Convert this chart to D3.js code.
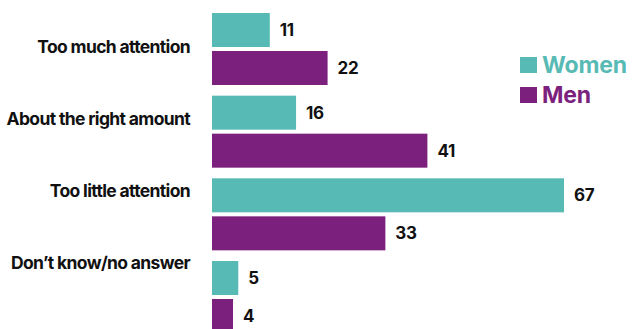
<!DOCTYPE html>
<html>
<head>
<meta charset="utf-8">
<script src="https://cdn.jsdelivr.net/npm/d3@7"></script>
<style>
  html, body { margin: 0; padding: 0; background: #fff; }
  svg { display: block; }
  .cat { font-family: Inter, "Noto Sans", sans-serif; font-weight: 700; font-size: 17.5px; letter-spacing: -0.65px; fill: #111; }
  .val { font-family: Inter, "Liberation Sans", sans-serif; font-weight: 700; font-size: 17px; letter-spacing: -0.3px; fill: #111; }
  .leg { font-family: Inter, "Noto Sans", sans-serif; font-weight: 700; font-size: 23px; letter-spacing: -0.2px; }
</style>
</head>
<body>
<svg id="chart" width="634" height="329"></svg>
<script>
// Survey answers, share of respondents (%)
const categories = ["Too much attention", "About the right amount", "Too little attention", "Don\u2019t know/no answer"];
const seriesNames = ["Women", "Men"];
const women = [11, 16, 67, 5];
const men = [22, 41, 33, 4];
const colors = ["#57bab4", "#7b217d"];

const svg = d3.select("#chart");
const W = 634, H = 329;

const rows = categories.map((c, i) => ({ cat: c, values: [women[i], men[i]] }));

// Horizontal value scale
const x = d3.scaleLinear().domain([0, 67]).range([212, 564]);

// Group position per category, then per series inside each group
const y0 = d3.scaleBand().domain(categories).range([13, 13 + 4 * 82.67]).padding(0);
const y1 = d3.scaleBand().domain(seriesNames).range([0, 72]).paddingInner(0.105).paddingOuter(0);

// Category labels sit on their own evenly spaced rows
const yLabel = d3.scalePoint().domain(categories).range([47, 263]);

svg.append("defs").append("clipPath").attr("id", "plotclip")
  .append("rect").attr("x", 0).attr("y", 0).attr("width", W).attr("height", H);

const groups = svg.append("g").attr("clip-path", "url(#plotclip)")
  .selectAll("g.grp").data(rows).join("g")
  .attr("class", "grp")
  .attr("transform", d => `translate(0,${y0(d.cat)})`);

groups.selectAll("rect")
  .data(d => d.values.map((v, j) => ({ v, s: seriesNames[j], j })))
  .join("rect")
  .attr("x", x(0))
  .attr("y", d => y1(d.s))
  .attr("width", d => x(d.v) - x(0))
  .attr("height", y1.bandwidth())
  .attr("fill", d => colors[d.j]);

groups.selectAll("text.val")
  .data(d => d.values.map((v, j) => ({ v, s: seriesNames[j], j })))
  .join("text")
  .attr("class", "val")
  .attr("x", d => x(d.v) + 10)
  .attr("y", d => y1(d.s) + y1.bandwidth() / 2)
  .attr("dy", "0.36em")
  .text(d => d.v);

svg.append("g").selectAll("text.cat").data(categories).join("text")
  .attr("class", "cat")
  .attr("x", 190)
  .attr("y", d => yLabel(d))
  .attr("dy", "0.36em")
  .attr("text-anchor", "end")
  .text(d => d);

// Legend
const leg = svg.append("g").selectAll("g").data(seriesNames).join("g")
  .attr("transform", (d, i) => `translate(520,${57 + i * 30})`);
leg.append("rect").attr("width", 17).attr("height", 16).attr("fill", (d, i) => colors[i]);
leg.append("text").attr("class", "leg")
  .attr("x", 22).attr("y", 16)
  .attr("fill", (d, i) => colors[i])
  .text(d => d);
</script>
</body>
</html>
